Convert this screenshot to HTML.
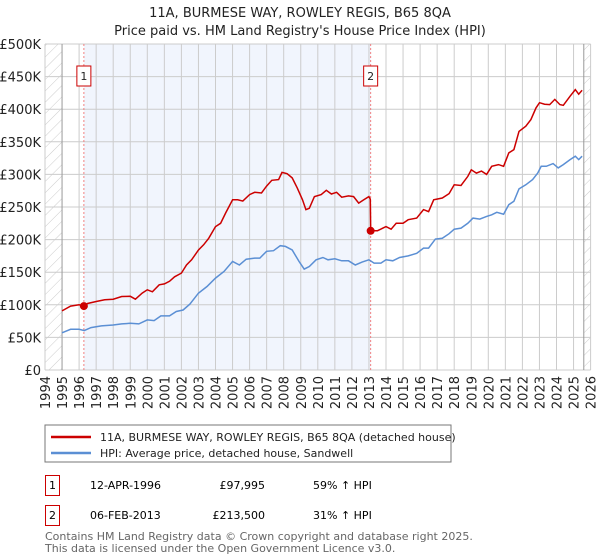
<!DOCTYPE html>
<html><head><meta charset="utf-8"><style>
body{margin:0;background:#fff;font-family:"Liberation Sans","DejaVu Sans",sans-serif;}
#wrap{position:relative;width:600px;height:560px;overflow:hidden;}
svg text{font-family:"DejaVu Sans","Liberation Sans",sans-serif;}
</style></head><body><div id="wrap">
<svg id="svg" width="600" height="560" xmlns="http://www.w3.org/2000/svg">
<defs><pattern id="hatch" width="8" height="8" patternUnits="userSpaceOnUse" patternTransform="rotate(45)"><line x1="0" y1="0" x2="0" y2="8" stroke="#ccc" stroke-width="1"/></pattern></defs>
<text x="300" y="17" text-anchor="middle" font-size="13" fill="#222">11A, BURMESE WAY, ROWLEY REGIS, B65 8QA</text>
<text x="300" y="35" text-anchor="middle" font-size="13" fill="#222">Price paid vs. HM Land Registry's House Price Index (HPI)</text>
<g id="grid"></g><g id="marks"></g><g id="axes"></g>
<rect x="45" y="425" width="406" height="37" fill="#fff" stroke="#777"/>
<line x1="51" y1="437" x2="91" y2="437" stroke="#cc0000" stroke-width="2.5"/>
<text x="100" y="441" font-size="11" fill="#222">11A, BURMESE WAY, ROWLEY REGIS, B65 8QA (detached house)</text>
<line x1="51" y1="453" x2="91" y2="453" stroke="#5b8fd4" stroke-width="2.5"/>
<text x="100" y="457" font-size="11" fill="#222">HPI: Average price, detached house, Sandwell</text>
<g>
<rect x="45.5" y="475.5" width="14" height="20" fill="#fff" stroke="#cc0000"/><text x="52.5" y="489" text-anchor="middle" font-size="11">1</text>
<text x="90" y="489" font-size="11">12-APR-1996</text><text x="265" y="489" text-anchor="end" font-size="11">£97,995</text><text x="313" y="489" font-size="11">59% ↑ HPI</text></g>
<g>
<rect x="45.5" y="505.5" width="14" height="20" fill="#fff" stroke="#cc0000"/><text x="52.5" y="519" text-anchor="middle" font-size="11">2</text>
<text x="90" y="519" font-size="11">06-FEB-2013</text><text x="265" y="519" text-anchor="end" font-size="11">£213,500</text><text x="313" y="519" font-size="11">31% ↑ HPI</text></g>
<text x="45" y="540" font-size="11" fill="#666">Contains HM Land Registry data © Crown copyright and database right 2025.</text>
<text x="45" y="552" font-size="11" fill="#666">This data is licensed under the Open Government Licence v3.0.</text>
</svg></div>
<script>
const yTicks=[0,50,100,150,200,250,300,350,400,450,500];
const yTickLabels=["£0","£50K","£100K","£150K","£200K","£250K","£300K","£350K","£400K","£450K","£500K"];
const years=[1994,1995,1996,1997,1998,1999,2000,2001,2002,2003,2004,2005,2006,2007,2008,2009,2010,2011,2012,2013,2014,2015,2016,2017,2018,2019,2020,2021,2022,2023,2024,2025,2026];
const saleDates=[1996.28,2013.1];
const salePrices=[97.995,213.5];
const saleLabels=["1","2"];
const redT=[1995,1995.5,1996,1996.28,1996.5,1997,1997.5,1998,1998.5,1999,1999.3,1999.7,2000,2000.3,2000.7,2001,2001.3,2001.6,2002,2002.3,2002.6,2003,2003.3,2003.6,2004,2004.3,2004.6,2005,2005.3,2005.6,2006,2006.3,2006.7,2007,2007.3,2007.7,2007.9,2008.2,2008.5,2008.8,2009.1,2009.3,2009.5,2009.8,2010.2,2010.5,2010.8,2011.1,2011.4,2011.8,2012.1,2012.4,2012.7,2013.0,2013.08,2013.1,2013.5,2014,2014.3,2014.6,2015,2015.3,2015.8,2016.2,2016.5,2016.8,2017.3,2017.7,2018,2018.4,2018.8,2019,2019.3,2019.6,2019.9,2020.2,2020.6,2020.9,2021.2,2021.5,2021.8,2022.2,2022.5,2022.8,2023,2023.3,2023.6,2023.9,2024.2,2024.4,2024.8,2025.1,2025.3,2025.5];
const redV=[90.7,98,100,98,102,105,107.6,108.6,112.7,113,108.6,118,123,120,130.6,132,136,143,148.6,161,169,184,192,202,220,225,241,261,261,259,269,272.5,271.5,282,291,292,303,301,294.6,279,261,246,248,266,269,275.6,270,272.5,265,267,266,256,261,266,262,213.5,213.6,220,216,225,225,230.5,233,246,243,261,263.8,270.5,284,283,297,307,302,305,300,312.5,315,312.5,333,338,366,374,384,402,410,407.7,407,415,407,406,420,430,423,429];
const hpiT=[1995,1995.5,1996,1996.3,1996.7,1997.3,1998,1998.5,1999,1999.5,2000,2000.4,2000.8,2001.3,2001.7,2002.1,2002.5,2003,2003.5,2004,2004.5,2005,2005.4,2005.8,2006.3,2006.6,2007,2007.4,2007.8,2008.1,2008.5,2008.9,2009.2,2009.5,2009.9,2010.3,2010.6,2011,2011.4,2011.8,2012.2,2012.6,2013,2013.3,2013.7,2014,2014.4,2014.8,2015.3,2015.8,2016.2,2016.5,2016.9,2017.3,2017.7,2018,2018.4,2018.8,2019.1,2019.5,2019.9,2020.2,2020.5,2020.9,2021.2,2021.5,2021.8,2022.2,2022.6,2022.9,2023.1,2023.4,2023.8,2024.1,2024.4,2024.8,2025.1,2025.3,2025.5];
const hpiV=[57,62.5,62.5,60.5,65,67.6,69,70.7,71.7,70.7,76.8,75.8,83,83,89.7,92,101,118,128,141,151,166.5,161,170,171.6,171.6,182,183,190.6,189.5,184,166.5,154.7,158.8,169,172.6,169,170.6,167.5,167.5,161,165.5,169,164,164,169,167.5,172.6,175,179,187,187,200.8,202,209,216,217.7,225,233,231.5,235.6,238,241.8,239,253.6,258.7,277.7,284,292,302,312.5,312.5,316.6,310,315,322.7,327.9,322.7,327.9];
const NS="http://www.w3.org/2000/svg";
const X0=45,YS=17.05,Yb=370,Yt=44;
const x=t=>X0+(t-1994)*YS;
const y=v=>Yb-(v/500)*(Yb-Yt);
function mk(tag,attrs,parent){const e=document.createElementNS(NS,tag);for(const k in attrs)e.setAttribute(k,attrs[k]);parent.appendChild(e);return e;}
const g=document.getElementById('grid'),m=document.getElementById('marks'),ax=document.getElementById('axes');
const L=x(1994),R=x(2026);
let r=mk('rect',{x:L,y:Yt,width:R-L,height:Yb-Yt,fill:'#fff'},g);


r=mk('rect',{x:x(saleDates[0]),y:Yt,width:x(saleDates[1])-x(saleDates[0]),height:Yb-Yt,fill:'#f1f5fd'},g);


r=mk('rect',{x:L,y:Yt,width:x(1995)-L,height:Yb-Yt,fill:'url(#hatch)'},g);


r=mk('rect',{x:x(2025.6),y:Yt,width:R-x(2025.6),height:Yb-Yt,fill:'url(#hatch)'},g);


yTicks.forEach((v,i)=>{
 const l=mk('line',{x1:L,x2:R,y1:y(v),y2:y(v),stroke:'#ccc','stroke-width':1},g);
 
 
 const t=mk('text',{x:41,y:y(v)+5,'text-anchor':'end','font-size':13,fill:'#222'},ax);
 t.textContent=yTickLabels[i];
 
 
});
years.forEach(yr=>{
 const l=mk('line',{x1:x(yr),x2:x(yr),y1:Yt,y2:Yb,stroke:(yr==1995?'#999':'#ccc'),'stroke-width':1},g);
 
 
 const t=mk('text',{x:0,y:0,'text-anchor':'end','font-size':13,fill:'#222',transform:`translate(${x(yr)+5},${Yb+6}) rotate(-90)`},ax);
 t.textContent=yr;
 
 
});
let vl=mk('line',{x1:x(2025.6),x2:x(2025.6),y1:Yt,y2:Yb,stroke:'#999'},g);


saleDates.forEach((d,i)=>{
 const l=mk('line',{x1:x(d),x2:x(d),y1:Yt,y2:Yb,stroke:'#f08080','stroke-dasharray':'2,2'},m);
 
 
 const bx=mk('rect',{x:x(d)-7,y:66,width:14,height:20,fill:'#fff',stroke:'#cc0000'},m);
 
 
 const t=mk('text',{x:x(d),y:80,'text-anchor':'middle','font-size':11,fill:'#222'},m);
 t.textContent=saleLabels[i];
 
 
});
const pts=(T,V)=>T.map((t,i)=>x(t).toFixed(1)+','+y(V[i]).toFixed(1)).join(' ');
let p=mk('polyline',{points:pts(hpiT,hpiV),fill:'none',stroke:'#5b8fd4','stroke-width':1.5},m);


p=mk('polyline',{points:pts(redT,redV),fill:'none',stroke:'#cc0000','stroke-width':1.5},m);


saleDates.forEach((d,i)=>{
 const c=mk('circle',{cx:x(d),cy:y(salePrices[i]),r:4,fill:'#cc0000'},m);
 
 
});
</script></body></html>
